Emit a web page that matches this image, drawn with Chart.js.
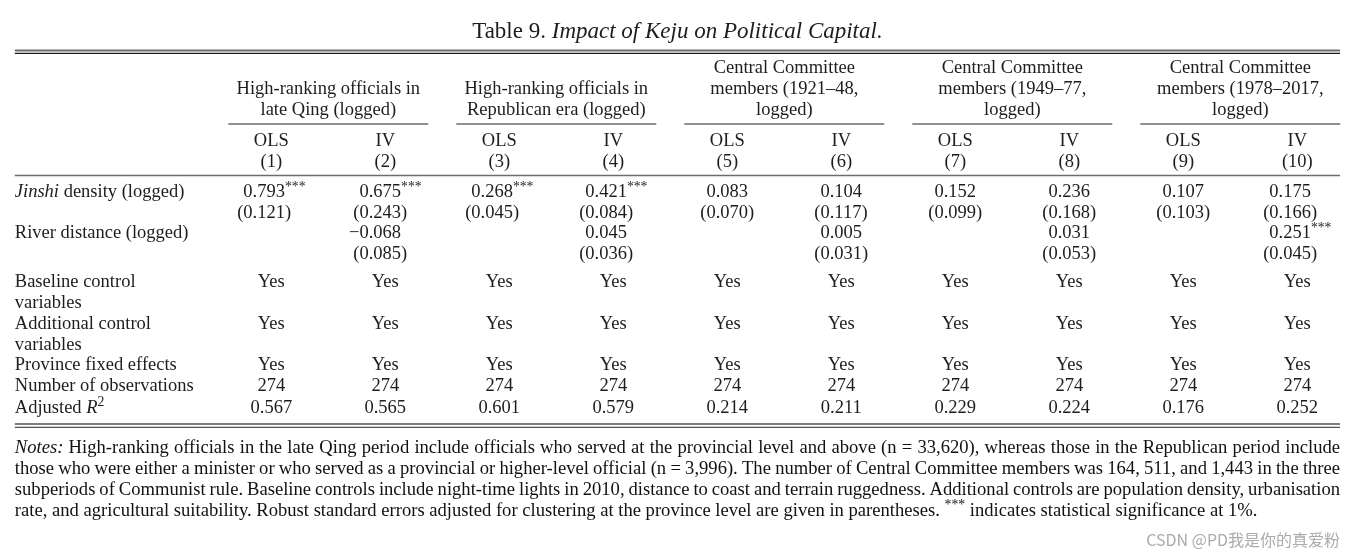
<!DOCTYPE html>
<html lang="en">
<head>
<meta charset="UTF-8" />
<title>Table 9. Impact of Keju on Political Capital</title>
<style>
  html, body { margin: 0; padding: 0; background: #fff; }
  .wrap { width: 1356px; height: 559px; position: relative; }
</style>
</head>
<body>
<div class="wrap"><canvas id="table"></canvas></div>

<script src="https://cdn.jsdelivr.net/npm/chart.js"></script>
<script>
// ---- table contents ----
// markup: _italic_  ^{superscript}
const tableTitle = "Table 9. _Impact of Keju on Political Capital._";

const groupTitles = [
  ["High-ranking officials in", "late Qing (logged)"],
  ["High-ranking officials in", "Republican era (logged)"],
  ["Central Committee", "members (1921–48,", "logged)"],
  ["Central Committee", "members (1949–77,", "logged)"],
  ["Central Committee", "members (1978–2017,", "logged)"]
];
const models = ["OLS", "IV", "OLS", "IV", "OLS", "IV", "OLS", "IV", "OLS", "IV"];
const colNumbers = ["(1)", "(2)", "(3)", "(4)", "(5)", "(6)", "(7)", "(8)", "(9)", "(10)"];

const jinshiCoef  = [0.793, 0.675, 0.268, 0.421, 0.083, 0.104, 0.152, 0.236, 0.107, 0.175];
const jinshiSE    = [0.121, 0.243, 0.045, 0.084, 0.070, 0.117, 0.099, 0.168, 0.103, 0.166];
const jinshiStars = [3, 3, 3, 3, 0, 0, 0, 0, 0, 0];

const riverCoef  = [null, -0.068, null, 0.045, null, 0.005, null, 0.031, null, 0.251];
const riverSE    = [null, 0.085, null, 0.036, null, 0.031, null, 0.053, null, 0.045];
const riverStars = [0, 0, 0, 0, 0, 0, 0, 0, 0, 3];

const baselineControls   = ["Yes", "Yes", "Yes", "Yes", "Yes", "Yes", "Yes", "Yes", "Yes", "Yes"];
const additionalControls = ["Yes", "Yes", "Yes", "Yes", "Yes", "Yes", "Yes", "Yes", "Yes", "Yes"];
const provinceFE         = ["Yes", "Yes", "Yes", "Yes", "Yes", "Yes", "Yes", "Yes", "Yes", "Yes"];
const nObs  = [274, 274, 274, 274, 274, 274, 274, 274, 274, 274];
const adjR2 = [0.567, 0.565, 0.601, 0.579, 0.214, 0.211, 0.229, 0.224, 0.176, 0.252];

const rowLabels = {
  jinshi: "_Jinshi_ density (logged)",
  river: "River distance (logged)",
  baseline: ["Baseline control", "variables"],
  additional: ["Additional control", "variables"],
  province: "Province fixed effects",
  nobs: "Number of observations",
  r2: "Adjusted _R_^{2}"
};

const notesLines = [
  "_Notes:_ High-ranking officials in the late Qing period include officials who served at the provincial level and above (n = 33,620), whereas those in the Republican period include",
  "those who were either a minister or who served as a provincial or higher-level official (n = 3,996). The number of Central Committee members was 164, 511, and 1,443 in the three",
  "subperiods of Communist rule. Baseline controls include night-time lights in 2010, distance to coast and terrain ruggedness. Additional controls are population density, urbanisation",
  "rate, and agricultural suitability. Robust standard errors adjusted for clustering at the province level are given in parentheses. ^{***} indicates statistical significance at 1%."
];
const watermark = "CSDN @PD我是你的真爱粉";

// ---- layout (x in column units, y in line units of 21px) ----
const X_MIN = -1.38, X_MAX = 10.515;
const Y_MIN = 0, Y_MAX = 559 / 21;
const LEFT = -1.25, RIGHT = 10.375, HALF_COL = 0.377;
const Y = {
  title: 1.51, topRule: 2.41, topRule2: 2.54,
  headBottom: 5.24, groupRule: 5.905, model: 6.74, num: 7.74, midRule: 8.36,
  jinshi: 9.17, jinshiSE: 10.14, river: 11.12, riverSE: 12.12,
  baseline: 13.45, additional: 15.43, province: 17.38, nobs: 18.40, r2: 19.45,
  botRule: 20.19, botRule2: 20.35,
  notes: 21.32, notesStep: 1.0, mark: 25.71
};
const SERIF = '"Liberation Serif", "Times New Roman", serif';
const INK = '#1e1c1d';
const SIZE = 18.5, TITLE_SIZE = 23, NOTE_SIZE = 18.6;
const SUP = 0.74;

function font(size, italic) {
  return (italic ? 'italic ' : '') + size + 'px ' + SERIF;
}

// split simple markup into styled tokens
function parse(str) {
  const segs = [];
  let italic = false, buf = '', i = 0;
  const push = (sup) => { if (buf) segs.push({ t: buf, i: italic, sup: !!sup }); buf = ''; };
  while (i < str.length) {
    const ch = str[i];
    if (ch === '_') { push(); italic = !italic; i++; }
    else if (ch === '^' && str[i + 1] === '{') {
      push();
      const end = str.indexOf('}', i);
      buf = str.slice(i + 2, end); push(true);
      i = end + 1;
    } else { buf += ch; i++; }
  }
  push();
  return segs;
}

function tokens(ctx, str, size) {
  const toks = [];
  parse(str).forEach(s => {
    s.t.split(/( )/).forEach(p => {
      if (!p) return;
      toks.push({ t: p, i: s.i, sup: s.sup, sp: p === ' ' });
    });
  });
  toks.forEach(tk => {
    ctx.font = font(tk.sup ? size * SUP : size, tk.i);
    tk.w = ctx.measureText(tk.t).width;
  });
  return toks;
}

function richWidth(ctx, str, size) {
  return tokens(ctx, str, size).reduce((a, tk) => a + tk.w, 0);
}

function drawRich(ctx, str, x, y, size, align, justify) {
  const toks = tokens(ctx, str, size);
  let total = toks.reduce((a, tk) => a + tk.w, 0);
  const nsp = toks.filter(tk => tk.sp).length;
  let extra = 0;
  if (justify && nsp) { extra = (justify - total) / nsp; total = justify; }
  let cx = align === 'center' ? x - total / 2 : align === 'right' ? x - total : x;
  toks.forEach(tk => {
    if (tk.sp) { cx += tk.w + extra; return; }
    ctx.font = font(tk.sup ? size * SUP : size, tk.i);
    ctx.fillText(tk.t, cx, tk.sup ? y - size * 0.3 : y);
    cx += tk.w;
  });
}

function fmt(v) {
  return (v < 0 ? '−' : '') + Math.abs(v).toFixed(3);
}

const tablePlugin = {
  id: 'regressionTable',
  afterDraw(chart) {
    const { ctx, scales: { x, y } } = chart;
    const px = v => x.getPixelForValue(v);
    const py = v => y.getPixelForValue(v);
    const left = px(LEFT), right = px(RIGHT);

    ctx.save();
    ctx.textBaseline = 'middle';
    ctx.fillStyle = INK;

    // title
    drawRich(ctx, tableTitle, (left + right) / 2, py(Y.title), TITLE_SIZE, 'center');

    // rules
    const rule = (yy, x0, x1, w, c) => {
      ctx.strokeStyle = c; ctx.lineWidth = w;
      ctx.beginPath(); ctx.moveTo(x0, py(yy)); ctx.lineTo(x1, py(yy)); ctx.stroke();
    };
    rule(Y.topRule, left, right, 2, '#6d6d6d');
    rule(Y.topRule2, left, right, 1.2, '#1a1a1a');
    rule(Y.midRule, left, right, 1.6, '#6d6d6d');
    rule(Y.botRule, left, right, 1.4, '#555');
    rule(Y.botRule2, left, right, 1.4, '#555');

    // column group headers
    groupTitles.forEach((lines, g) => {
      const c0 = 2 * g + 1, c1 = 2 * g + 2;
      const mid = px((c0 + c1) / 2);
      lines.forEach((ln, k) => {
        const yy = Y.headBottom - (lines.length - 1 - k);
        drawRich(ctx, ln, mid, py(yy), SIZE, 'center');
      });
      rule(Y.groupRule, px(c0 - HALF_COL), px(c1 + HALF_COL), 1.6, '#6d6d6d');
    });

    // model and column numbers
    models.forEach((m, k) => {
      drawRich(ctx, m, px(k + 1), py(Y.model), SIZE, 'center');
      drawRich(ctx, colNumbers[k], px(k + 1), py(Y.num), SIZE, 'center');
    });

    // row labels
    drawRich(ctx, rowLabels.jinshi, left, py(Y.jinshi), SIZE, 'left');
    drawRich(ctx, rowLabels.river, left, py(Y.river), SIZE, 'left');
    rowLabels.baseline.forEach((t, k) => drawRich(ctx, t, left, py(Y.baseline + k), SIZE, 'left'));
    rowLabels.additional.forEach((t, k) => drawRich(ctx, t, left, py(Y.additional + k), SIZE, 'left'));
    drawRich(ctx, rowLabels.province, left, py(Y.province), SIZE, 'left');
    drawRich(ctx, rowLabels.nobs, left, py(Y.nobs), SIZE, 'left');
    drawRich(ctx, rowLabels.r2, left, py(Y.r2), SIZE, 'left');

    // decimal-aligned coefficient cells
    for (let k = 0; k < 10; k++) {
      const cells = [];
      const stars = n => n ? '^{' + '*'.repeat(n) + '}' : '';
      cells.push({ s: fmt(jinshiCoef[k]) + stars(jinshiStars[k]), row: Y.jinshi });
      cells.push({ s: '(' + fmt(jinshiSE[k]) + ')', row: Y.jinshiSE });
      if (riverCoef[k] !== null) {
        cells.push({ s: fmt(riverCoef[k]) + stars(riverStars[k]), row: Y.river });
        cells.push({ s: '(' + fmt(riverSE[k]) + ')', row: Y.riverSE });
      }
      let maxL = 0, maxR = 0;
      cells.forEach(c => {
        const dot = c.s.indexOf('.');
        c.l = richWidth(ctx, c.s.slice(0, dot), SIZE);
        c.r = richWidth(ctx, c.s.slice(dot), SIZE);
        maxL = Math.max(maxL, c.l); maxR = Math.max(maxR, c.r);
      });
      const decX = px(k + 1) - (maxL + maxR) / 2 + maxL;
      cells.forEach(c => drawRich(ctx, c.s, decX - c.l, py(c.row), SIZE, 'left'));

      // centred cells
      drawRich(ctx, baselineControls[k], px(k + 1), py(Y.baseline), SIZE, 'center');
      drawRich(ctx, additionalControls[k], px(k + 1), py(Y.additional), SIZE, 'center');
      drawRich(ctx, provinceFE[k], px(k + 1), py(Y.province), SIZE, 'center');
      drawRich(ctx, String(nObs[k]), px(k + 1), py(Y.nobs), SIZE, 'center');
      drawRich(ctx, adjR2[k].toFixed(3), px(k + 1), py(Y.r2), SIZE, 'center');
    }

    // notes, justified except the last line
    ctx.fillStyle = '#111';
    notesLines.forEach((ln, k) => {
      const last = k === notesLines.length - 1;
      drawRich(ctx, ln, left, py(Y.notes + k * Y.notesStep), NOTE_SIZE, 'left', last ? 0 : right - left);
    });

    // watermark
    ctx.fillStyle = '#ababab';
    ctx.font = '16px "Noto Sans CJK SC", "Noto Sans", sans-serif';
    ctx.textAlign = 'right';
    ctx.fillText(watermark, right, py(Y.mark));
    ctx.restore();
  }
};

new Chart(document.getElementById('table'), {
  type: 'scatter',
  data: { datasets: [] },
  options: {
    responsive: true,
    maintainAspectRatio: false,
    animation: false,
    layout: { padding: 0 },
    plugins: { legend: { display: false }, tooltip: { enabled: false } },
    scales: {
      x: { type: 'linear', display: false, min: X_MIN, max: X_MAX },
      y: { type: 'linear', display: false, reverse: true, min: Y_MIN, max: Y_MAX }
    }
  },
  plugins: [tablePlugin]
});
</script>
</body>
</html>
